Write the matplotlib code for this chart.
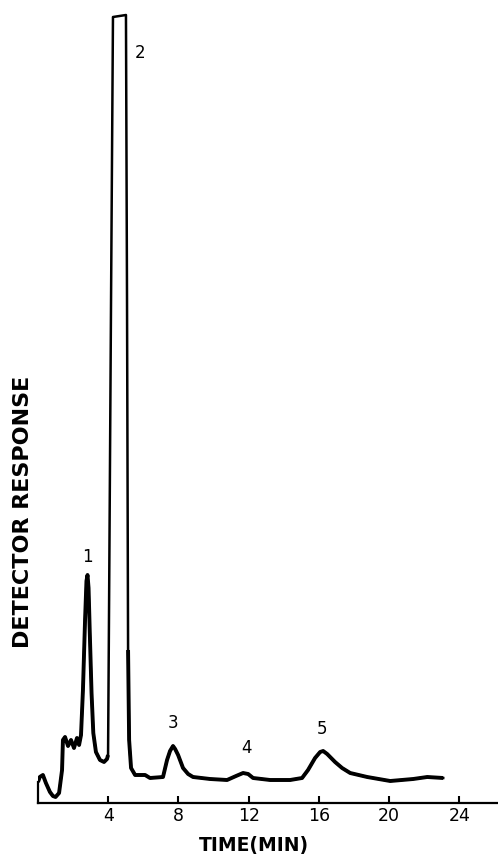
import numpy as np
import matplotlib
matplotlib.use("Agg")
import matplotlib.pyplot as plt

# chromatogram trace (time in min, response in arbitrary units)
time_min = [0.0, 0.1, 0.28, 0.45, 0.68, 0.85, 1.0, 1.2, 1.37, 1.42, 1.54, 1.71,
            1.88, 2.05, 2.22, 2.34, 2.45, 2.56, 2.68, 2.76, 2.82, 2.88, 2.95,
            3.05, 3.15, 3.3, 3.53, 3.76, 3.93, 3.99, 4.05, 4.16, 4.27, 5.01,
            5.07, 5.13, 5.19, 5.3, 5.53, 6.1, 6.38, 7.12, 7.35, 7.52, 7.69,
            7.81, 7.98, 8.26, 8.55, 8.83, 9.8, 10.77, 11.28, 11.68, 11.97,
            12.25, 13.22, 14.36, 15.04, 15.38, 15.78, 16.07, 16.24, 16.47,
            16.92, 17.32, 17.78, 18.75, 20.06, 21.37, 22.17, 23.08]
response = [21, 26, 28, 20, 11, 7, 6, 10, 33, 63, 66, 57, 63, 55, 65, 58, 68,
            113, 183, 222, 228, 215, 170, 110, 70, 51, 43, 41, 44, 48, 203,
            503, 786, 788, 503, 153, 63, 35, 28, 28, 25, 26, 43, 52, 57, 54,
            48, 35, 29, 26, 24, 23, 27, 30, 29, 25, 23, 23, 25, 33, 45, 51,
            52, 49, 41, 35, 30, 26, 22, 24, 26, 25]

peak_labels = ["1", "2", "3", "4", "5"]
peak_time = [2.79, 5.81, 7.7, 11.9, 16.2]
peak_resp = [246, 750, 80, 55, 74]

tick_values = [4, 8, 12, 16, 20, 24]

t = np.array(time_min)
r = np.array(response, dtype=float)

# the off-scale peak was traced with a thinner pen than the rest
off_scale = (t > 3.99) & (t < 5.13)
r_thick = np.where(off_scale, np.nan, r)

fig = plt.figure(figsize=(4.98, 8.56), dpi=100)
ax = fig.add_axes([38 / 498, 53 / 856, 460 / 498, 803 / 856])

ax.plot(t, r, color="black", linewidth=1.8, solid_joinstyle="round")
ax.plot(t, r_thick, color="black", linewidth=2.8,
        solid_joinstyle="round", solid_capstyle="butt")

for lab, pt, pr in zip(peak_labels, peak_time, peak_resp):
    ax.text(pt, pr, lab, ha="center", va="center", fontsize=12,
            family="DejaVu Sans")

ax.set_xlim(0, 26.2)
ax.set_ylim(0, 803)

ax.spines["top"].set_visible(False)
ax.spines["right"].set_visible(False)
ax.spines["bottom"].set_linewidth(1.6)
ax.spines["left"].set_linewidth(1.6)
ax.spines["left"].set_bounds(0, 21)

ax.set_yticks([])
ax.set_xticks(tick_values)
ax.set_xticklabels([str(v) for v in tick_values], fontsize=12.5)
ax.tick_params(axis="x", direction="in", length=5, width=1.5, pad=3)

fig.text(254 / 498, 1 - 846 / 856, "TIME(MIN)", ha="center", va="center",
         fontsize=13.5, fontweight="bold", family="DejaVu Sans")
fig.text(23 / 498, 1 - 512 / 856, "DETECTOR RESPONSE", ha="center",
         va="center", rotation=90, fontsize=16, fontweight="bold",
         family="DejaVu Sans")

fig.savefig("out.png", dpi=100)
